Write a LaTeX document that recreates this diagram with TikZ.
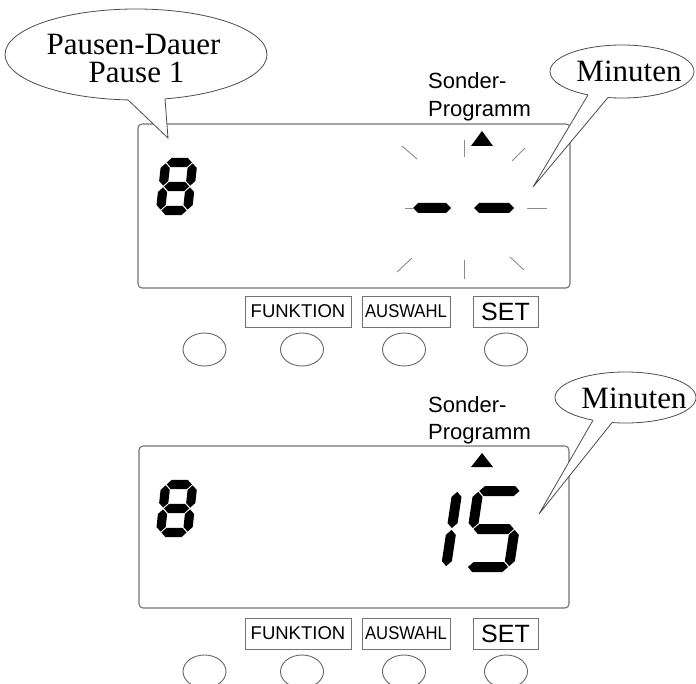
\documentclass[tikz,border=0pt]{standalone}
\usepackage{fontspec}
\setmainfont{Liberation Serif}
\newfontfamily\arialf{Liberation Sans}
\usepackage{graphicx}
\usetikzlibrary{shapes.geometric}

\tikzset{
  lcd/.style={draw=black!55, line width=1.1pt, rounded corners=4pt, inner sep=0pt},
  keylabel/.style={draw=black!55, line width=0.9pt, inner sep=0pt, minimum height=31pt, font=\arialf\fontsize{18.5}{20}\selectfont},
  keybtn/.style={draw=black!60, line width=0.9pt, ellipse, minimum width=43pt, minimum height=33pt, inner sep=0pt},
  bubble/.style={draw=black!70, line width=0.8pt, fill=white, ellipse, inner sep=0pt},
  tailline/.style={draw=black!70, line width=0.8pt, line join=miter},
  ray/.style={draw=black!45, line width=0.9pt},
  digitfill/.style={fill=black},
  sanslabel/.style={font=\arialf\fontsize{22}{26}\selectfont, inner sep=0pt, anchor=base west},
  bubbletext/.style={font=\fontsize{31}{28}\selectfont, inner sep=0pt, anchor=base},
  minutext/.style={font=\fontsize{31}{31}\selectfont, inner sep=0pt, anchor=base},
}

% segment helpers (cell coordinates, y up)
\newcommand\hseg[3]{\fill[digitfill] (#1,#3) -- (#1+\dT,#3+\dT) -- (#2-\dT,#3+\dT) -- (#2,#3) -- (#2-\dT,#3-\dT) -- (#1+\dT,#3-\dT) -- cycle;}
\newcommand\vseg[3]{\fill[digitfill] (#1,#2) -- (#1+\dT,#2+\dT) -- (#1+\dT,#3-\dT) -- (#1,#3) -- (#1-\dT,#3-\dT) -- (#1-\dT,#2+\dT) -- cycle;}
\newcommand\sega{\hseg{\dG}{\dW-\dG}{\dH}}
\newcommand\segg{\hseg{\dG}{\dW-\dG}{\dH/2}}
\newcommand\segd{\hseg{\dG}{\dW-\dG}{0}}
\newcommand\segf{\vseg{0}{\dH/2+\dG}{\dH-\dG}}
\newcommand\sege{\vseg{0}{\dG}{\dH/2-\dG}}
\newcommand\segb{\vseg{\dW}{\dH/2+\dG}{\dH-\dG}}
\newcommand\segc{\vseg{\dW}{\dG}{\dH/2-\dG}}
% #1 x0, #2 y0 (bottom-left, picture px), #3 width, #4 height, #5 half thickness, #6 slant, #7 segments
\newcommand\lcddigit[7]{%
  \begin{scope}[shift={(#1pt,-#2pt)}, x=1pt, y=1pt, xslant=#6]
    \def\dW{#3}\def\dH{#4}\def\dT{#5}\def\dG{0.9}%
    #7
  \end{scope}}

\begin{document}
\begin{tikzpicture}[x=1pt,y=-1pt]
\useasboundingbox (0,0) rectangle (696,684);

% ---------- upper display ----------
\node[lcd, minimum width=432pt, minimum height=164pt] (lcd1) at (354,206) {};
\node[keylabel, minimum width=106pt] (fk1) at (298,311.5) {FUNKTION};
\node[keylabel, minimum width=88pt] (aw1) at (406,311.5) {\scalebox{0.9}[1]{AUSWAHL}};
\node[keylabel, minimum width=65pt, font=\arialf\fontsize{25}{27}\selectfont] (st1) at (505.5,311.5) {SET};
\node[keybtn] (b11) at (204.5,349.5) {};
\node[keybtn] (b12) at (302,349.5) {};
\node[keybtn] (b13) at (404,349.5) {};
\node[keybtn] (b14) at (506,349.5) {};

\node[sanslabel] (sp1a) at (428,89) {Sonder-};
\node[sanslabel] (sp1b) at (428,117) {Programm};
\fill (482,131) -- (493,146) -- (471,146) -- cycle;

\lcddigit{160.5}{210.5}{27}{48}{4.6}{0.11}{\sega\segb\segc\segd\sege\segf\segg}

% blinking dashes
\begin{scope}
  \def\dT{5}
  \hseg{413}{451}{208}
  \hseg{474}{514}{208}
\end{scope}
\draw[ray] (464,140) -- (464,157);
\draw[ray] (402,146) -- (417,159);
\draw[ray] (525,148) -- (512,161);
\draw[ray] (527,208) -- (547,208);
\draw[ray] (405,208) -- (414,208);
\draw[ray] (464,260) -- (464,279);
\draw[ray] (397,272) -- (412,258);
\draw[ray] (510,257) -- (524,270);

% callout Pausen-Dauer
\node[bubble, minimum width=262pt, minimum height=91pt] (c1) at (136,54.5) {};
\fill[white] (128,92) -- (128,100) -- (168,138) -- (165,99) -- (165,92) -- cycle;
\draw[tailline] (128,99.9) -- (168,138) -- (165,98.9);
\node[bubbletext] (t1a) at (133.5,55) {Pausen-Dauer};
\node[bubbletext] (t1b) at (136.5,83) {Pause 1};

% callout Minuten (upper)
\node[bubble, minimum width=144pt, minimum height=53pt] (c2) at (622,71.5) {};
\fill[white] (588,88) -- (588,95) -- (533,187) -- (608,97.5) -- (608,88) -- cycle;
\draw[tailline] (588,94.9) -- (533,187) -- (608,97.5);
\node[minutext] (t2) at (629,82) {Minuten};

% ---------- lower display ----------
\node[lcd, minimum width=430pt, minimum height=162pt] (lcd2) at (354,527) {};
\node[keylabel, minimum width=106pt] (fk2) at (298,633.5) {FUNKTION};
\node[keylabel, minimum width=88pt] (aw2) at (406,633.5) {\scalebox{0.9}[1]{AUSWAHL}};
\node[keylabel, minimum width=65pt, font=\arialf\fontsize{25}{27}\selectfont] (st2) at (505.5,633.5) {SET};
\node[keybtn] (b21) at (204.5,671.5) {};
\node[keybtn] (b22) at (302,671.5) {};
\node[keybtn] (b23) at (404,671.5) {};
\node[keybtn] (b24) at (506,671.5) {};

\node[sanslabel] (sp2a) at (428,413) {Sonder-};
\node[sanslabel] (sp2b) at (428,439) {Programm};
\fill (482,453) -- (493,467) -- (471,467) -- cycle;

\lcddigit{160.5}{532.5}{27}{48}{4.6}{0.11}{\sega\segb\segc\segd\sege\segf\segg}
\lcddigit{446}{567}{0}{76}{5}{0.15}{\segb\segc}
\lcddigit{467}{567}{42}{76}{5}{0.15}{\sega\segf\segg\segc\segd}

% callout Minuten (lower)
\node[bubble, minimum width=141pt, minimum height=51pt] (c3) at (625.5,397.5) {};
\fill[white] (593,414) -- (593,420.2) -- (539,514) -- (612,422.6) -- (612,414) -- cycle;
\draw[tailline] (593,420.2) -- (539,514) -- (612,422.6);
\node[minutext] (t3) at (634,408) {Minuten};
\end{tikzpicture}
\end{document}
